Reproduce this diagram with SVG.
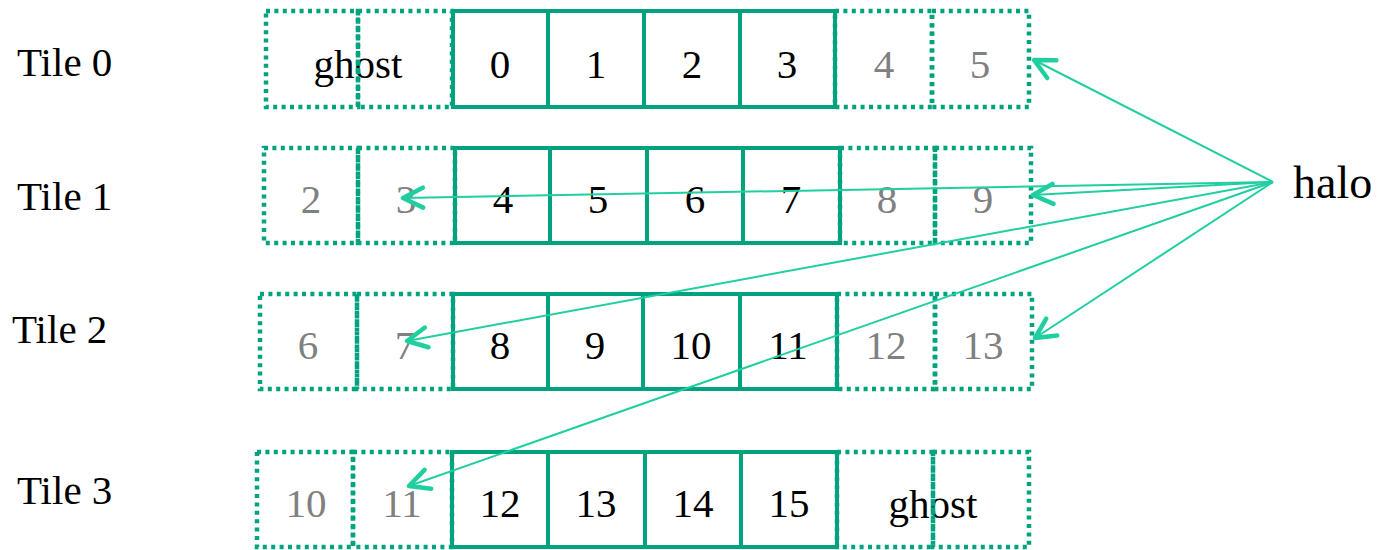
<svg xmlns="http://www.w3.org/2000/svg" width="1378" height="550" viewBox="0 0 1378 550">
<style>
.solid{fill:none;stroke:#00A37E;stroke-width:4}
.dot{fill:none;stroke:#00A37E;stroke-width:4.5;stroke-dasharray:4 4.4}
.t{font-family:'Liberation Serif','Times New Roman',Tinos,'DejaVu Serif',serif;font-size:41px;text-anchor:middle;fill:#000}
.g{fill:#808080}
.lbl{font-family:'Liberation Serif','Times New Roman',Tinos,'DejaVu Serif',serif;font-size:41px;fill:#000}
.con{stroke:#20CFA0;stroke-width:2;fill:none;marker-end:url(#ah)}
</style>
<defs>
<marker id="ah" viewBox="0 0 26 26" markerWidth="26" markerHeight="26" refX="23" refY="13" markerUnits="userSpaceOnUse" orient="auto">
<path d="M3,3 L23,13 L3,23" fill="none" stroke="#20CFA0" stroke-width="4.5" stroke-linecap="round" stroke-linejoin="round"/>
</marker>
</defs>
<rect width="1378" height="550" fill="#fff"/>

<g id="labels">
<text class="lbl" x="17" y="76">Tile 0</text>
<text class="lbl" x="17" y="210">Tile 1</text>
<text class="lbl" x="12" y="343">Tile 2</text>
<text class="lbl" x="17" y="504">Tile 3</text>
<text class="lbl" x="1293" y="198" style="font-size:46px">halo</text>
</g>

<g id="tile0">
<text class="t" x="358" y="78">ghost</text>
<rect class="dot" x="266" y="11" width="92" height="96"/>
<rect class="dot" x="358" y="11" width="94" height="96"/>
<rect class="solid" x="453" y="11" width="95" height="96"/>
<rect class="solid" x="548" y="11" width="96" height="96"/>
<rect class="solid" x="644" y="11" width="96" height="96"/>
<rect class="solid" x="740" y="11" width="95" height="96"/>
<rect class="dot" x="835" y="11" width="97" height="96"/>
<rect class="dot" x="932" y="11" width="97" height="96"/>
<text class="t" x="500" y="78">0</text>
<text class="t" x="596" y="78">1</text>
<text class="t" x="692" y="78">2</text>
<text class="t" x="787" y="78">3</text>
<text class="t g" x="884" y="78">4</text>
<text class="t g" x="980" y="78">5</text>
</g>

<g id="tile1">
<rect class="dot" x="264" y="148" width="94" height="95"/>
<rect class="dot" x="358" y="148" width="97" height="95"/>
<rect class="solid" x="455" y="148" width="95" height="95"/>
<rect class="solid" x="550" y="148" width="97" height="95"/>
<rect class="solid" x="647" y="148" width="96" height="95"/>
<rect class="solid" x="743" y="148" width="97" height="95"/>
<rect class="dot" x="840" y="148" width="95" height="95"/>
<rect class="dot" x="935" y="148" width="96" height="95"/>
<text class="t g" x="311" y="213">2</text>
<text class="t g" x="406" y="213">3</text>
<text class="t" x="503" y="213">4</text>
<text class="t" x="598" y="213">5</text>
<text class="t" x="695" y="213">6</text>
<text class="t" x="791" y="213">7</text>
<text class="t g" x="887" y="213">8</text>
<text class="t g" x="983" y="213">9</text>
</g>

<g id="tile2">
<rect class="dot" x="260" y="294" width="97" height="95"/>
<rect class="dot" x="357" y="294" width="96" height="95"/>
<rect class="solid" x="453" y="294" width="95" height="95"/>
<rect class="solid" x="548" y="294" width="95" height="95"/>
<rect class="solid" x="643" y="294" width="97" height="95"/>
<rect class="solid" x="740" y="294" width="97" height="95"/>
<rect class="dot" x="837" y="294" width="98" height="95"/>
<rect class="dot" x="935" y="294" width="97" height="95"/>
<text class="t g" x="308" y="359">6</text>
<text class="t g" x="405" y="359">7</text>
<text class="t" x="500" y="359">8</text>
<text class="t" x="595" y="359">9</text>
<text class="t" x="691" y="359">10</text>
<text class="t" x="788" y="359">11</text>
<text class="t g" x="886" y="359">12</text>
<text class="t g" x="983" y="359">13</text>
</g>

<g id="tile3">
<text class="t" x="933" y="518">ghost</text>
<rect class="dot" x="257" y="452" width="96" height="95"/>
<rect class="dot" x="353" y="452" width="99" height="95"/>
<rect class="solid" x="452" y="452" width="96" height="95"/>
<rect class="solid" x="548" y="452" width="97" height="95"/>
<rect class="solid" x="645" y="452" width="96" height="95"/>
<rect class="solid" x="741" y="452" width="96" height="95"/>
<rect class="dot" x="837" y="452" width="96" height="95"/>
<rect class="dot" x="933" y="452" width="96" height="95"/>
<text class="t g" x="306" y="517">10</text>
<text class="t g" x="402" y="517">11</text>
<text class="t" x="500" y="517">12</text>
<text class="t" x="596" y="517">13</text>
<text class="t" x="693" y="517">14</text>
<text class="t" x="789" y="517">15</text>
</g>

<g id="connectors">
<line class="con" x1="1273" y1="182" x2="1034" y2="60"/>
<line class="con" x1="1273" y1="182" x2="403" y2="198"/>
<line class="con" x1="1273" y1="182" x2="1033" y2="195"/>
<line class="con" x1="1273" y1="182" x2="407" y2="341"/>
<line class="con" x1="1273" y1="182" x2="1035" y2="338"/>
<line class="con" x1="1273" y1="182" x2="409" y2="486"/>
</g>
</svg>
